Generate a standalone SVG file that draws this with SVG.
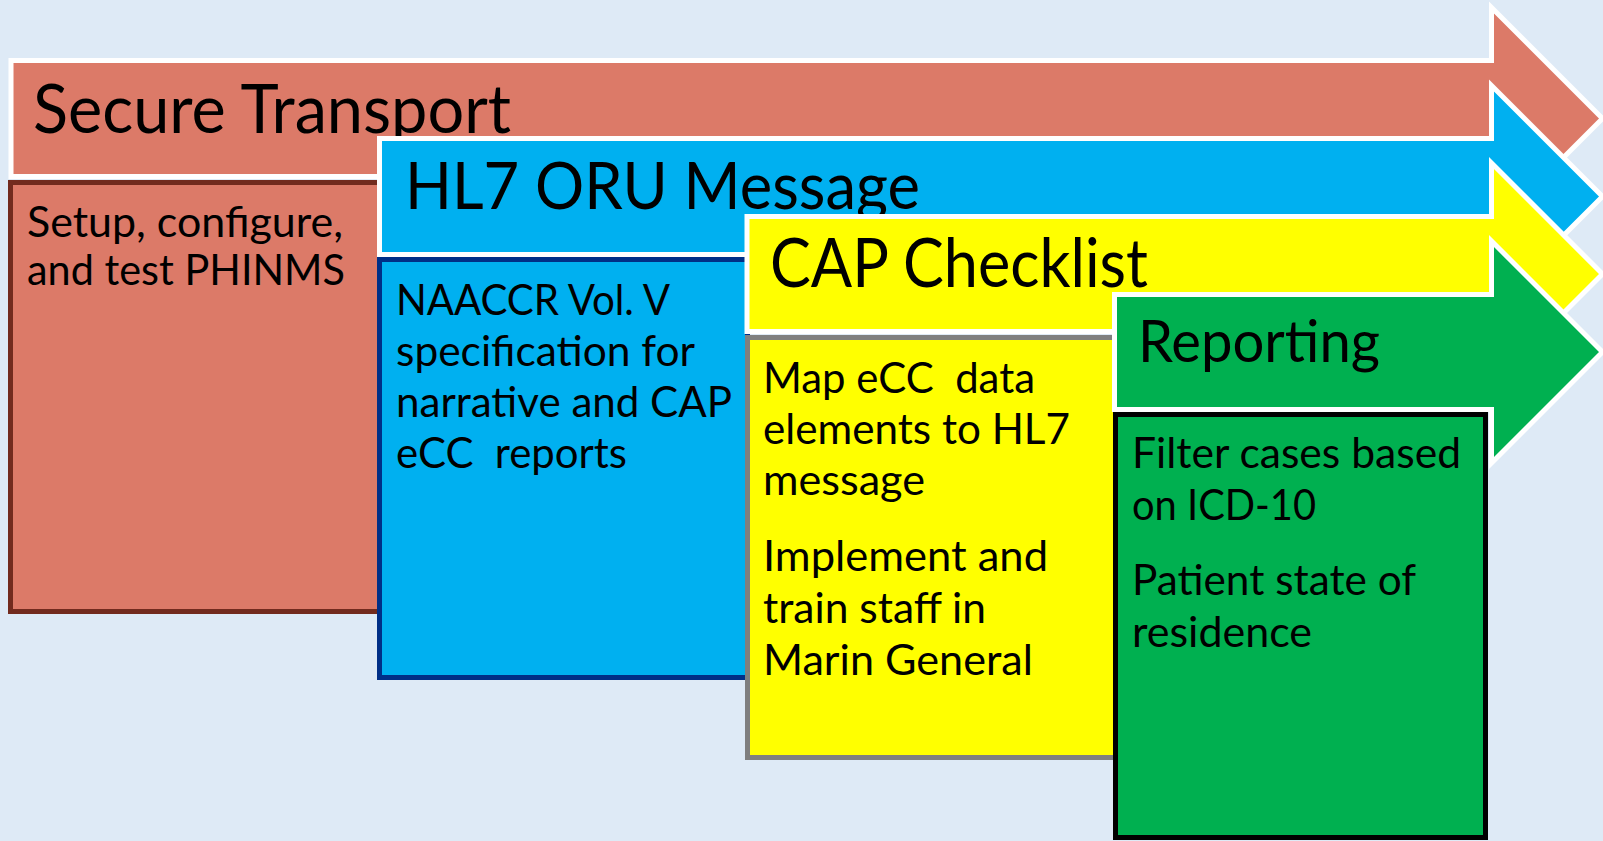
<svg xmlns="http://www.w3.org/2000/svg" width="1603" height="841" viewBox="0 0 1603 841">
  <style>
    .arrow { stroke: #FFFFFF; stroke-width: 5; stroke-linejoin: miter; }
    .box { stroke-width: 5; }
    .title { font-family: Lato, "Open Sans", "Liberation Sans", sans-serif; fill: #000000; }
    .body { font-family: Lato, "Open Sans", "Liberation Sans", sans-serif; font-size: 42px; fill: #000000; }
    .salmon { fill: #DC7A68; }
    .blue { fill: #00B0F0; }
    .yellow { fill: #FFFF00; }
    .green { fill: #00B050; }
  </style>
  <rect x="0" y="0" width="1603" height="841" fill="#DEEAF6"/>

  <g id="secure-transport">
    <path class="arrow salmon" d="M11,60.5 H1491.5 V7.5 L1602.5,118.5 L1491.5,229.5 V176.5 H11 Z"/>
    <text class="title" x="33" y="133" font-size="67" textLength="478" lengthAdjust="spacingAndGlyphs">Secure Transport</text>
    <rect class="box salmon" x="10.5" y="182.5" width="370" height="429" stroke="#722B1E"/>
    <text class="body" x="27" y="237" textLength="316" lengthAdjust="spacingAndGlyphs">Setup, configure,</text>
    <text class="body" x="27" y="285" textLength="318" lengthAdjust="spacingAndGlyphs">and test PHINMS</text>
  </g>

  <g id="hl7-oru-message">
    <path class="arrow blue" d="M379.5,138.5 H1491.5 V85.5 L1602.5,196.5 L1491.5,307.5 V254.5 H379.5 Z"/>
    <text class="title" x="405" y="209" font-size="66" textLength="515" lengthAdjust="spacingAndGlyphs">HL7 ORU Message</text>
    <rect class="box blue" x="379.5" y="259.5" width="368" height="418" stroke="#002F87"/>
    <text class="body" x="396" y="315" textLength="274" lengthAdjust="spacingAndGlyphs">NAACCR Vol. V</text>
    <text class="body" x="396" y="366" textLength="299" lengthAdjust="spacingAndGlyphs">specification for</text>
    <text class="body" x="396" y="417" textLength="336" lengthAdjust="spacingAndGlyphs">narrative and CAP</text>
    <text class="body" x="396" y="468" textLength="231" lengthAdjust="spacingAndGlyphs" xml:space="preserve">eCC  reports</text>
  </g>

  <g id="cap-checklist">
    <path class="arrow yellow" d="M747,216.5 H1491.5 V163 L1602.5,274 L1491.5,385 V331.5 H747 Z"/>
    <text class="title" x="770" y="287" font-size="67" textLength="378" lengthAdjust="spacingAndGlyphs">CAP Checklist</text>
    <rect class="box yellow" x="747.5" y="337.5" width="368" height="420" stroke="#7F7F7F"/>
    <text class="body" x="763" y="393" textLength="272" lengthAdjust="spacingAndGlyphs" xml:space="preserve">Map eCC  data</text>
    <text class="body" x="763" y="444" textLength="307" lengthAdjust="spacingAndGlyphs">elements to HL7</text>
    <text class="body" x="763" y="495" textLength="162" lengthAdjust="spacingAndGlyphs">message</text>
    <text class="body" x="763" y="571" textLength="285" lengthAdjust="spacingAndGlyphs">Implement and</text>
    <text class="body" x="763" y="623" textLength="223" lengthAdjust="spacingAndGlyphs">train staff in</text>
    <text class="body" x="763" y="675" textLength="270" lengthAdjust="spacingAndGlyphs">Marin General</text>
  </g>

  <g id="reporting">
    <path class="arrow green" d="M1114.5,294.5 H1491.5 V241 L1602.5,352 L1491.5,463 V409.5 H1114.5 Z"/>
    <text class="title" x="1138" y="362" font-size="59" textLength="242" lengthAdjust="spacingAndGlyphs">Reporting</text>
    <rect class="box green" x="1115.5" y="414.5" width="370" height="423" stroke="#000000"/>
    <text class="body" x="1132" y="468" textLength="329" lengthAdjust="spacingAndGlyphs">Filter cases based</text>
    <text class="body" x="1132" y="520" textLength="184" lengthAdjust="spacingAndGlyphs">on ICD-10</text>
    <text class="body" x="1132" y="595" textLength="284" lengthAdjust="spacingAndGlyphs">Patient state of</text>
    <text class="body" x="1132" y="647" textLength="180" lengthAdjust="spacingAndGlyphs">residence</text>
  </g>

  <g id="connectors"/>
</svg>
